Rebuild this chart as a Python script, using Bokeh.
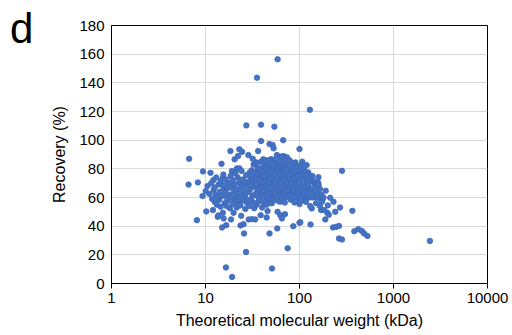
from bokeh.plotting import figure
from bokeh.models import Range1d, FixedTicker, ColumnDataSource, Div
from bokeh.layouts import column
from bokeh.embed import file_html
from bokeh.resources import INLINE

# Theoretical molecular weight (kDa) and recovery (%)
mw_kda = [
    58.5, 35.3, 129, 27.2, 39, 54,
    6.7, 6.6, 8.3, 9.4, 8.1, 9.3, 10.05, 10.2, 16.5, 19.2, 27, 25.7, 51, 74.8, 58, 86, 100, 131, 100, 67, 48, 39,
    283, 270, 240, 212, 230, 200, 188, 198, 205, 227, 245, 263, 263, 283, 159, 141, 190, 165, 146, 130, 157, 175, 135, 170,
    119, 108, 124, 133, 144, 157, 183, 365, 383, 422, 460, 487, 528, 2440, 102,
    12, 13.5, 13.7, 15, 16.6, 18.7, 15.6, 23.6, 25.4,
    28.8, 31.2, 33.8, 24, 38.6, 19.9, 15.3, 45.7, 48,
    58.5, 62.5, 65, 70, 44.7, 130, 100, 173, 110, 144,
    51.8, 53, 57.5, 62.5, 67.6, 73.5, 50,
    11.3, 12.1, 14.8, 18.4, 20.4, 22.2, 22.9, 24.5, 28.6, 36.3, 41.1, 15.3, 19.1, 21.6, 23, 12.2, 15.6,
    12.5, 13.2, 14, 14.5, 16, 16.8, 17.5, 18.2, 19.5, 20.5, 21.5, 22.5, 23.5, 25, 26.5, 27.5, 29, 31, 33, 35, 37, 40, 42,
    10.5, 11, 11.5, 11.8, 12.5, 12.8, 13, 13.5, 13.8, 14.2, 14.5, 15, 15.5, 15.8, 16.2, 16.5, 17, 17.3, 17.8, 18, 18.5,
    18.8, 19.2, 19.5, 20, 20.3, 20.8, 21.2, 21.5, 22, 22.3, 22.8, 23.2, 23.8, 24.2, 24.5, 25, 25.5, 26, 26.5, 27, 27.5,
    28, 28.5, 29, 29.5,
    30, 30.5, 31, 31.5, 32, 32.5, 33, 33.5, 34, 34.5, 35, 35.5, 36, 36.5, 37, 37.5, 38, 38.5, 39, 39.5,
    30.2, 31.8, 33.2, 34.8, 36.2, 37.8, 39.2, 30.8, 32.8, 35.2, 37.2, 38.8, 34.2, 36.8,
    40, 40.5, 41, 41.5, 42, 42.5, 43, 43.5, 44, 44.5, 45, 45.5, 46, 46.5, 47, 47.5, 48, 48.5, 49, 49.5,
    50, 50.5, 51, 51.5, 52, 52.5, 53, 53.5, 54, 54.5,
    40.2, 41.2, 42.2, 43.2, 44.2, 45.2, 46.2, 47.2, 48.2, 49.2, 50.2, 51.2, 52.2, 53.2, 54.2,
    40.8, 43.8, 46.8, 49.8, 52.8, 41.8, 44.8, 47.8, 50.8, 53.8, 42.8, 45.8, 48.8, 51.8, 54.8,
    55, 55.5, 56, 56.5, 57, 57.5, 58, 58.5, 59, 59.5, 60, 60.5, 61, 61.5, 62, 62.5, 63, 63.5, 64, 64.5,
    65, 65.5, 66, 66.5, 67, 67.5, 68, 68.5, 69, 69.5, 70, 70.5, 71, 71.5, 72, 72.5, 73, 73.5, 74, 74.5,
    55.2, 56.2, 57.2, 58.2, 59.2, 60.2, 61.2, 62.2, 63.2, 64.2, 65.2, 66.2, 67.2, 68.2, 69.2, 70.2, 71.2, 72.2, 73.2, 74.2,
    56.8, 60.8, 64.8, 68.8, 72.8, 57.8, 61.8, 65.8, 69.8, 73.8, 58.8, 62.8, 66.8, 70.8, 59.8, 63.8, 67.8, 71.8,
    75, 76, 77, 78, 79, 80, 81, 82, 83, 84, 85, 86, 87, 88, 89, 90, 91, 92, 93, 94, 95, 96, 97, 98, 99,
    75.5, 77.5, 79.5, 81.5, 83.5, 85.5, 87.5, 89.5, 91.5, 93.5, 95.5, 97.5, 76.5, 80.5, 84.5, 88.5, 92.5, 96.5,
    78.5, 82.5, 86.5, 90.5, 94.5, 98.5,
    100, 102, 104, 106, 108, 110, 112, 114, 116, 118, 120, 122, 125, 128,
    101, 105, 109, 113, 117, 121, 126, 103, 107, 111, 115, 119, 124, 129,
    135, 140, 150, 155, 160, 170, 180, 137, 150, 165,
]
recovery_pct = [
    156.4, 143.6, 121.2, 110.3, 110.8, 109.4,
    87, 69, 70.5, 78.2, 44.2, 61, 64.5, 50.3, 11.2, 4.6, 22, 34.9, 10.5, 24.6, 38.4, 40, 42.3, 41.2, 93.8, 100, 97.3, 99.4,
    78.6, 53, 50, 59.8, 57, 54.5, 44.7, 49.3, 47.9, 39.1, 39.5, 40.2, 31.4, 30.7, 74.2, 71.4, 64.7, 65.9, 62.8, 64.7, 59.8, 58.2, 52.4, 51.2,
    82.6, 76.3, 77.5, 72.1, 69.8, 70.7, 51.2, 50.7, 36.5, 37.9, 36.7, 34.9, 33.2, 29.7, 42.8,
    51.2, 46.5, 47.5, 39.1, 40.7, 44.7, 45.4, 40.5, 41.4,
    44.7, 44.9, 44.7, 47.2, 47.7, 49.3, 49.3, 50.5, 34.9,
    50, 47.7, 45.4, 48.4, 46.1, 54, 55.4, 57, 58.2, 60.5,
    96.6, 94.3, 89.6, 88.4, 88.9, 88, 86.8,
    77.2, 72.1, 83.5, 92.4, 86.6, 88.9, 93.6, 91.9, 89.6, 92.4, 86.6, 73.7, 78.4, 80.3, 80.3, 65.2, 66.8,
    57, 55, 58.5, 53.5, 56, 54, 58, 52.5, 55.5, 57.5, 53, 56, 54.5, 58, 52, 56.5, 54, 57.5, 52.5, 55, 57.5, 53, 56,
    68, 62.5, 70, 59, 67, 62, 74, 60.5, 69, 64, 71.5, 61, 76, 68.5, 63.5, 72.5, 59.5, 66.5, 70, 62, 75,
    67.5, 60, 72, 64.5, 69, 77, 61.5, 66, 74, 58.5, 70.5, 63, 67.5, 78.5, 60.5, 72.5, 65, 69.5, 62, 75.5, 58.5,
    68, 71, 64, 77.5,
    66, 73, 79, 61, 70, 83, 67.5, 75, 62.5, 71, 78, 64, 81, 68.5, 73.5, 59, 76.5, 66, 85, 70,
    58.5, 87, 56, 84.5, 60.5, 80, 63, 75.5, 77, 69, 65.5, 72.5, 74, 76,
    74, 67, 80, 61, 71.5, 84, 64.5, 77, 69, 58, 82, 72.5, 66, 79, 62, 75.5, 86, 70, 64, 77.5,
    81, 68, 73, 60, 84, 71, 66.5, 78, 74, 62.5,
    78, 70.5, 65, 81.5, 73, 68, 76, 71, 79.5, 73.5, 66, 77, 69, 75, 82,
    84, 86, 85.5, 85, 83, 57, 55, 58.5, 56, 59, 75, 70, 67, 80, 72,
    76, 69, 81, 63, 73, 85, 67, 78.5, 71, 60, 83, 74.5, 66, 79, 70, 62.5, 76, 86, 68, 73,
    80.5, 64, 71.5, 77, 59, 82, 69, 74, 65, 79.5, 72, 84, 67.5, 61, 76, 70, 81, 64, 74.5, 78,
    72, 66.5, 77, 74, 80, 68.5, 75.5, 81.5, 72.5, 78, 70, 83.5, 75, 79, 71, 76.5, 73, 66, 78.5, 69.5,
    87, 84.5, 88.5, 83, 85, 58, 57, 59.5, 56.5, 60.5, 64.5, 66, 67, 63, 76, 70.5, 73, 79,
    71, 77, 65, 81, 69.5, 74, 62, 78, 67, 72.5, 84, 70, 64.5, 76, 60, 73, 80, 67, 71, 63, 77, 69, 74.5, 61, 66,
    79, 73.5, 76, 70, 79.5, 66, 73, 77.5, 64, 75, 70.5, 79, 61, 58.5, 60, 56.5, 58, 62.5,
    86, 83, 81, 84.5, 82, 72,
    70, 75, 65, 79, 68, 72.5, 61, 76, 66.5, 70, 63, 74, 67, 71,
    60, 58, 63, 68, 57, 60.5, 62, 82, 85, 80, 78, 75, 69, 60,
    66, 60, 67, 63, 69, 62, 60, 75, 56, 54,
]
x_ticks = [1, 10, 100, 1000, 10000]
x_tick_labels = ["1", "10", "100", "1000", "10000"]
y_ticks = [0, 20, 40, 60, 80, 100, 120, 140, 160, 180]

FONT = "Liberation Sans"
BLUE = "#4472C4"

fig = figure(width=512, height=335, x_axis_type="log",
             x_range=Range1d(1, 10000), y_range=Range1d(0, 180),
             output_backend="svg", toolbar_location=None,
             min_border_left=111, min_border_right=25,
             min_border_top=25, min_border_bottom=52)

src = ColumnDataSource(dict(x=mw_kda, y=recovery_pct))
fig.scatter("x", "y", source=src, size=5.5, fill_color=BLUE, line_color="#3E68B8", line_width=0.8)

fig.xaxis.ticker = FixedTicker(ticks=x_ticks)
fig.xaxis.major_label_overrides = {t: l for t, l in zip(x_ticks, x_tick_labels)}
fig.yaxis.ticker = FixedTicker(ticks=y_ticks)
fig.xgrid.ticker = FixedTicker(ticks=x_ticks)
fig.ygrid.ticker = FixedTicker(ticks=y_ticks)

for ax in (fig.xaxis[0], fig.yaxis[0]):
    ax.major_label_text_font = FONT
    ax.major_label_text_font_size = "15px"
    ax.major_label_text_color = "#000000"
    ax.axis_label_text_font = FONT
    ax.axis_label_text_font_size = "16px"
    ax.axis_label_text_font_style = "normal"
    ax.axis_label_text_color = "#000000"
    ax.axis_line_color = "#000000"
    ax.minor_tick_line_color = None

fig.xaxis.axis_label = "Theoretical molecular weight (kDa)"
fig.yaxis.axis_label = "Recovery (%)"
fig.xaxis.major_tick_out = 5
fig.xaxis.major_tick_in = 0
fig.xaxis.major_tick_line_color = "#000000"
fig.xaxis.major_label_standoff = 4
fig.xaxis.axis_label_standoff = 6
fig.yaxis.major_tick_out = 0
fig.yaxis.major_tick_in = 0
fig.yaxis.major_label_standoff = 7
fig.yaxis.axis_label_standoff = 8

fig.grid.grid_line_color = "#D9D9D9"
fig.grid.grid_line_width = 1
fig.outline_line_color = "#000000"
fig.outline_line_width = 1
fig.background_fill_color = "white"
fig.border_fill_color = "white"

# panel letter, laid over the top-left corner of the figure
panel_letter = Div(text="d", width=40, height=50, margin=(-327, 0, 277, 10),
                   styles={"font-family": FONT, "font-size": "42px", "line-height": "42px",
                           "color": "#000000", "position": "relative", "z-index": "10"})

p = column(fig, panel_letter, spacing=0)

open("out.html", "w").write(file_html(p, INLINE))
